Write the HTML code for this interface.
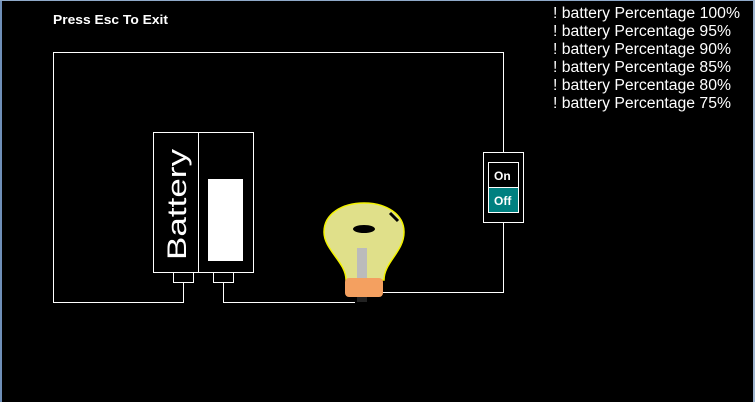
<!DOCTYPE html>
<html><head><style>
html,body{margin:0;padding:0;background:#000;width:755px;height:402px;overflow:hidden}
</style></head><body>
<svg width="755" height="402" style="position:absolute;left:0;top:0">
<rect x="0" y="0" width="755" height="402" fill="#000"/>
<rect x="0" y="0" width="2" height="402" fill="#6f8fb8"/>
<rect x="0" y="0" width="755" height="1" fill="#8fa9c9"/>
<rect x="753" y="0" width="2" height="402" fill="#9fb5d0"/>
<g stroke="#fff" stroke-width="1" fill="none" shape-rendering="crispEdges">
<polyline points="503.5,152 503.5,52.5 53.5,52.5 53.5,302.5 183.5,302.5 183.5,282"/>
<polyline points="223.5,282 223.5,302.5 355,302.5"/>
<polyline points="503.5,222 503.5,292.5 380,292.5"/>
<rect x="153.5" y="132.5" width="45" height="140"/>
<rect x="198.5" y="132.5" width="55" height="140"/>
<rect x="173.5" y="272.5" width="20" height="10"/>
<rect x="213.5" y="272.5" width="20" height="10"/>
<rect x="483.5" y="152.5" width="40" height="70"/>
<rect x="488.5" y="162.5" width="30" height="25"/>
<rect x="488.5" y="187.5" width="30" height="25" fill="#008080"/>
</g>
<rect x="208" y="179" width="35" height="82" fill="#fff"/>
<text transform="translate(186,260) rotate(-90)" font-family="Liberation Sans,sans-serif" font-size="27" fill="#fff" textLength="111" lengthAdjust="spacingAndGlyphs">Battery</text>
<text x="494" y="180" font-family="Liberation Sans,sans-serif" font-size="12" font-weight="bold" fill="#fff">On</text>
<text x="494" y="205" font-family="Liberation Sans,sans-serif" font-size="12" font-weight="bold" fill="#fff">Off</text>
<path d="M346,280 C346,262 324,250 324,232 C324,214 342,203 364,203 C386,203 404,214 404,232 C404,252 384,262 384,280 Z" fill="#e0e08a" stroke="#f2f200" stroke-width="1.5"/>
<rect x="357" y="248" width="10" height="30" fill="#bbb"/>
<ellipse cx="364" cy="229" rx="11" ry="4" fill="#000"/>
<path d="M390,213 l8,8" stroke="#000" stroke-width="3"/>
<rect x="345" y="278" width="38" height="19" rx="4" fill="#f4a060"/>
<rect x="357" y="297" width="10" height="5" fill="#222"/>
<text x="53" y="24" font-family="Liberation Sans,sans-serif" font-size="13" font-weight="bold" fill="#fff" textLength="115" lengthAdjust="spacingAndGlyphs">Press Esc To Exit</text>
<g font-family="Liberation Sans,sans-serif" font-size="15.5" fill="#fff">
<text x="553" y="18" textLength="187" lengthAdjust="spacingAndGlyphs">! battery Percentage 100%</text>
<text x="553" y="36" textLength="178" lengthAdjust="spacingAndGlyphs">! battery Percentage 95%</text>
<text x="553" y="54" textLength="178" lengthAdjust="spacingAndGlyphs">! battery Percentage 90%</text>
<text x="553" y="72" textLength="178" lengthAdjust="spacingAndGlyphs">! battery Percentage 85%</text>
<text x="553" y="90" textLength="178" lengthAdjust="spacingAndGlyphs">! battery Percentage 80%</text>
<text x="553" y="108" textLength="178" lengthAdjust="spacingAndGlyphs">! battery Percentage 75%</text>
</g>
</svg>
</body></html>
